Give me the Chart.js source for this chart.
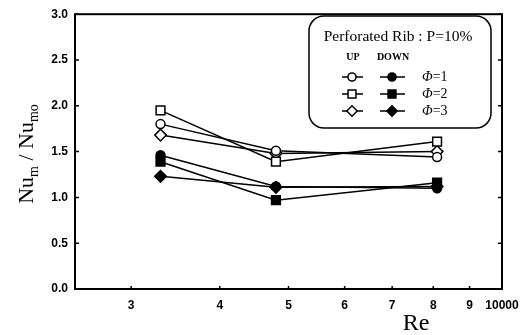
<!DOCTYPE html>
<html>
<head>
<meta charset="utf-8">
<script src="https://cdn.jsdelivr.net/npm/chart.js@4.4.1/dist/chart.umd.min.js"></script>
<style>
html,body{margin:0;padding:0;background:#fff;}
#wrap{width:531px;height:335px;position:relative;}
</style>
</head>
<body>
<div id="wrap"><canvas id="c" width="531" height="335"></canvas></div>
<script>
// ---- data ----
const Re = [3300, 4800, 8100];
const upPhi1 = [1.80, 1.51, 1.44];   // open circle
const upPhi2 = [1.95, 1.39, 1.61];   // open square
const upPhi3 = [1.68, 1.48, 1.50];   // open diamond
const downPhi1 = [1.46, 1.12, 1.10]; // filled circle
const downPhi2 = [1.39, 0.97, 1.16]; // filled square
const downPhi3 = [1.23, 1.11, 1.12]; // filled diamond
const xTickValues = [3000, 4000, 5000, 6000, 7000, 8000, 9000, 10000];
const xTickLabels = ['3', '4', '5', '6', '7', '8', '9', '10000'];
const yTickValues = [0, 0.5, 1.0, 1.5, 2.0, 2.5, 3.0];
const legendTitle = 'Perforated Rib : P=10%';
const legendCols = ['UP', 'DOWN'];
const legendRows = ['1', '2', '3'];

const styles = ['circle', 'rect', 'rectRot'];
const radii = [4.5, 6.2, 5.8];

function pts(ys){ return Re.map((x,i)=>({x:x, y:ys[i]})); }
function ds(label, ys, k, filled){
  return {
    label: label, data: pts(ys), showLine: true,
    borderColor: '#000', borderWidth: 1.5,
    pointStyle: styles[k], pointRadius: radii[k], pointHoverRadius: radii[k],
    pointBackgroundColor: filled ? '#000' : '#fff',
    pointBorderColor: '#000', pointBorderWidth: 1.5,
    backgroundColor: filled ? '#000' : '#fff', fill: false, tension: 0
  };
}

const framePlugin = {
  id: 'frame',
  afterDatasetsDraw(chart){
    const ctx = chart.ctx, a = chart.chartArea;
    const xs = chart.scales.x, ys = chart.scales.y;
    ctx.save();
    ctx.strokeStyle = '#000';
    ctx.lineWidth = 2;
    ctx.strokeRect(a.left, a.top, a.right - a.left, a.bottom - a.top);
    ctx.lineWidth = 1.5;
    ctx.beginPath();
    yTickValues.forEach(v=>{
      const y = ys.getPixelForValue(v);
      ctx.moveTo(a.left, y); ctx.lineTo(a.left + 4, y);
      ctx.moveTo(a.right, y); ctx.lineTo(a.right - 4, y);
    });
    xTickValues.forEach(v=>{
      const x = xs.getPixelForValue(v);
      ctx.moveTo(x, a.bottom); ctx.lineTo(x, a.bottom - 3);
    });
    ctx.stroke();

    // axis titles
    ctx.fillStyle = '#000';
    ctx.textBaseline = 'alphabetic';
    ctx.font = '24px "Liberation Serif"';
    ctx.textAlign = 'center';
    ctx.fillText('Re', 416, 330);
    ctx.save();
    ctx.translate(33, 154);
    ctx.rotate(-Math.PI/2);
    const big = '22px "Liberation Serif"', small = '14px "Liberation Serif"';
    const parts = [['Nu', big, 0], ['m', small, 5], [' / ', big, 0], ['Nu', big, 0], ['mo', small, 5]];
    let w = 0;
    parts.forEach(p=>{ ctx.font = p[1]; w += ctx.measureText(p[0]).width; });
    let x = -w/2;
    ctx.textAlign = 'left';
    parts.forEach(p=>{ ctx.font = p[1]; ctx.fillText(p[0], x, p[2]); x += ctx.measureText(p[0]).width; });
    ctx.restore();

    // legend box
    const L = 309, T = 16, R = 491, B = 128, rad = 15;
    ctx.lineWidth = 1.5;
    ctx.beginPath();
    ctx.moveTo(L + rad, T);
    ctx.lineTo(R - rad, T); ctx.arcTo(R, T, R, T + rad, rad);
    ctx.lineTo(R, B - rad); ctx.arcTo(R, B, R - rad, B, rad);
    ctx.lineTo(L + rad, B); ctx.arcTo(L, B, L, B - rad, rad);
    ctx.lineTo(L, T + rad); ctx.arcTo(L, T, L + rad, T, rad);
    ctx.closePath();
    ctx.fillStyle = '#fff'; ctx.fill(); ctx.stroke();
    ctx.fillStyle = '#000';
    ctx.font = '15.5px "Liberation Serif"';
    ctx.textAlign = 'center'; ctx.textBaseline = 'middle';
    ctx.fillText(legendTitle, 398, 37);
    ctx.font = 'bold 10px "Liberation Serif"';
    ctx.fillText(legendCols[0], 353, 57);
    ctx.fillText(legendCols[1], 393, 57);
    const rowY = [77, 94, 111];
    legendRows.forEach((lab, k)=>{
      const y = rowY[k];
      ctx.lineWidth = 1.5; ctx.strokeStyle = '#000';
      ctx.beginPath();
      ctx.moveTo(342, y); ctx.lineTo(363, y);
      ctx.moveTo(380, y); ctx.lineTo(405, y);
      ctx.stroke();
      [[352, '#fff'], [392, '#000']].forEach(m=>{
        ctx.fillStyle = m[1]; ctx.strokeStyle = '#000'; ctx.lineWidth = 1.5;
        Chart.helpers.drawPoint(ctx, {pointStyle: styles[k], radius: radii[k]*0.9, rotation: 0, borderWidth: 1.5}, m[0], y);
      });
      ctx.fillStyle = '#000';
      ctx.textAlign = 'left';
      ctx.font = 'italic 14px "Liberation Serif"';
      ctx.fillText('\u03A6', 422, y);
      const pw = ctx.measureText('\u03A6').width;
      ctx.font = '14px "Liberation Serif"';
      ctx.fillText('=' + lab, 422 + pw, y);
      ctx.textAlign = 'center';
    });
    ctx.restore();
  }
};

new Chart(document.getElementById('c'), {
  type: 'scatter',
  data: {
    datasets: [
      ds('UP \u03A6=1', upPhi1, 0, false),
      ds('UP \u03A6=2', upPhi2, 1, false),
      ds('UP \u03A6=3', upPhi3, 2, false),
      ds('DOWN \u03A6=1', downPhi1, 0, true),
      ds('DOWN \u03A6=2', downPhi2, 1, true),
      ds('DOWN \u03A6=3', downPhi3, 2, true)
    ]
  },
  options: {
    responsive: false, animation: false,
    layout: { padding: { top: 14, right: 29, left: 0, bottom: 0 } },
    plugins: { legend: { display: false }, tooltip: { enabled: false }, title: { display: false } },
    scales: {
      x: {
        type: 'logarithmic', min: 2500, max: 10000,
        grid: { display: false, drawTicks: false }, border: { display: false },
        afterBuildTicks(s){ s.ticks = xTickValues.map(v=>({value: v})); },
        afterFit(s){ s.height = 46; },
        ticks: {
          autoSkip: false, maxRotation: 0, padding: 9, color: '#000',
          font: { family: 'Liberation Sans', size: 12, weight: 'bold' },
          callback(v){ const i = xTickValues.indexOf(v); return i >= 0 ? xTickLabels[i] : ''; }
        }
      },
      y: {
        min: 0, max: 3,
        grid: { display: false, drawTicks: false }, border: { display: false },
        afterBuildTicks(s){ s.ticks = yTickValues.map(v=>({value: v})); },
        afterFit(s){ s.width = 75; },
        ticks: {
          padding: 7, color: '#000',
          font: { family: 'Liberation Sans', size: 12, weight: 'bold' },
          callback(v){ return Number(v).toFixed(1); }
        }
      }
    }
  },
  plugins: [framePlugin]
});
</script>
</body>
</html>
